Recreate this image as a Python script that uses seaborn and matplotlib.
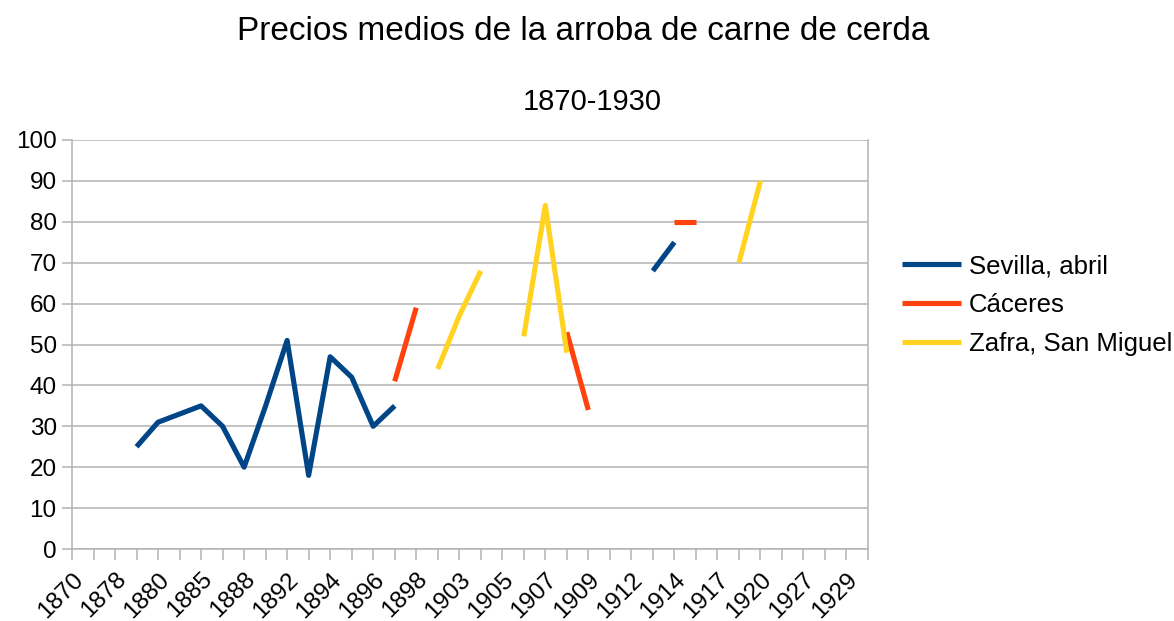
import numpy as np
import pandas as pd
import matplotlib
matplotlib.use("Agg")
import matplotlib.pyplot as plt
import seaborn as sns

# ---- data ----
years = ["1870", "1875", "1878", "1879", "1880", "1884", "1885", "1886",
         "1888", "1890", "1892", "1893", "1894", "1895", "1896", "1897",
         "1898", "1900", "1903", "1904", "1905", "1906", "1907", "1908",
         "1909", "1910", "1912", "1913", "1914", "1915", "1917", "1918",
         "1920", "1925", "1927", "1928", "1929", "1930"]
nan = np.nan
sevilla = [nan, nan, nan, 25, 31, 33, 35, 30, 20, 35, 51, 18, 47, 42, 30, 35,
           nan, nan, nan, nan, nan, nan, nan, nan, nan, nan, nan, 68, 75, nan,
           nan, nan, nan, nan, nan, nan, nan, nan]
caceres = [nan, nan, nan, nan, nan, nan, nan, nan, nan, nan, nan, nan, nan, nan,
           nan, 41, 59, nan, nan, nan, nan, nan, nan, 53, 34, nan, nan, nan,
           80, 80, nan, nan, nan, nan, nan, nan, nan, nan]
zafra = [nan, nan, nan, nan, nan, nan, nan, nan, nan, nan, nan, nan, nan, nan,
         nan, nan, nan, 44, 57, 68, nan, 52, 84, 48, nan, nan, nan, nan, nan,
         nan, nan, 70, 90, nan, nan, nan, nan, nan]
series_names = ["Sevilla, abril", "Cáceres", "Zafra, San Miguel"]
series_values = [sevilla, caceres, zafra]
colors = ["#004586", "#ff420e", "#ffd320"]

# ---- build long table with contiguous segments (gaps kept) ----
rows = []
for name, vals in zip(series_names, series_values):
    seg = 0
    prev_nan = True
    for k, v in enumerate(vals):
        if np.isnan(v):
            prev_nan = True
            continue
        if prev_nan:
            seg += 1
        prev_nan = False
        rows.append({"pos": k, "value": v, "serie": name, "seg": f"{name}-{seg}"})
df = pd.DataFrame(rows)

sns.set_theme(style="white")
plt.rcParams["font.family"] = ["Liberation Sans", "DejaVu Sans"]
plt.rcParams["text.color"] = "black"
plt.rcParams["xtick.labelcolor"] = "black"
plt.rcParams["ytick.labelcolor"] = "black"

fig = plt.figure(figsize=(11.74, 6.21), dpi=100)
ax = fig.add_axes([72 / 1174, 1 - 549 / 621, (868 - 72) / 1174, (549 - 140) / 621])

sns.lineplot(data=df, x="pos", y="value", hue="serie", units="seg",
             estimator=None, palette=colors, hue_order=series_names,
             linewidth=3.7, ax=ax, solid_capstyle="butt", legend=True)

tick_fs = 17.5
ax.set_xlim(0, len(years) - 1)
ax.set_ylim(0, 100)
ax.set_yticks(range(0, 101, 10))
ax.set_yticklabels([str(v) for v in range(0, 101, 10)], fontsize=tick_fs)
ax.set_xticks(range(len(years)))
ax.set_xticklabels([y if i % 2 == 0 else "" for i, y in enumerate(years)],
                   fontsize=tick_fs, rotation=45, ha="right", rotation_mode="anchor")
ax.set_xlabel("")
ax.set_ylabel("")

grid_c = "#b3b3b3"
ax.grid(axis="y", color=grid_c, linewidth=1.1)
ax.grid(axis="x", visible=False)
ax.set_axisbelow(True)
ax.spines["top"].set_visible(False)
for s in ["left", "bottom", "right"]:
    ax.spines[s].set_color(grid_c)
    ax.spines[s].set_linewidth(1.1)
ax.tick_params(axis="x", length=8, width=1.1, color=grid_c, pad=6, bottom=True)
ax.tick_params(axis="y", length=7, width=1.1, color=grid_c, pad=4, left=True)

leg = ax.legend(loc="center left", bbox_to_anchor=(902 / 1174, 1 - 305 / 621),
                bbox_transform=fig.transFigure, frameon=False, fontsize=18.5,
                handlelength=2.3, handletextpad=0.3, labelspacing=0.58,
                borderpad=0, borderaxespad=0)
for line in leg.get_lines():
    line.set_linewidth(3.7)

fig.text(583 / 1174, 1 - 32 / 621, "Precios medios de la arroba de carne de cerda",
         ha="center", va="center", fontsize=24)
fig.text(592 / 1174, 1 - 102 / 621, "1870-1930", ha="center", va="center",
         fontsize=21)

fig.savefig("out.png", dpi=100)
